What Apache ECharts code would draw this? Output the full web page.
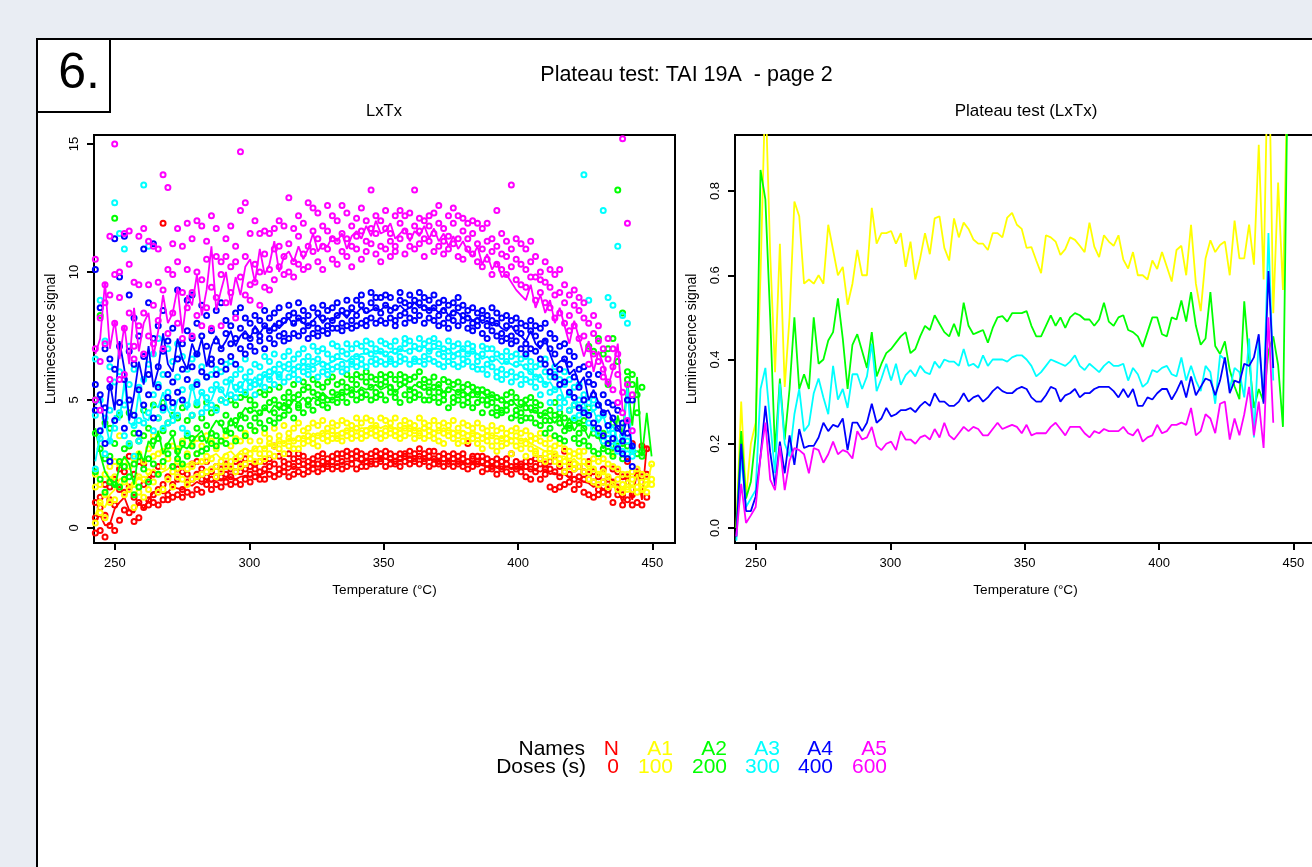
<!DOCTYPE html>
<html>
<head>
<meta charset="utf-8">
<title>Plateau test</title>
<script src="https://cdn.jsdelivr.net/npm/echarts@6/dist/echarts.min.js"></script>
<style>
  html, body { margin: 0; padding: 0; background: #e9edf3; overflow: hidden; }
  /* the right plot box runs past the window edge in the original */
  #chart { width: 1330px; height: 867px; }
</style>
</head>
<body>
<div id="chart"></div>
<script>
const temps = [
242.7,244.5,246.3,248.1,249.9,251.7,253.5,255.3,257.1,258.9,
260.7,262.5,264.3,266.1,267.9,269.7,271.5,273.3,275.1,276.9,
278.7,280.5,282.3,284.1,285.9,287.7,289.5,291.3,293.1,294.9,
296.7,298.5,300.3,302.1,303.9,305.7,307.5,309.3,311.1,312.9,
314.7,316.5,318.3,320.1,321.9,323.7,325.5,327.3,329.1,330.9,
332.7,334.5,336.3,338.1,339.9,341.7,343.5,345.3,347.1,348.9,
350.7,352.5,354.3,356.1,357.9,359.7,361.5,363.3,365.1,366.9,
368.7,370.5,372.3,374.1,375.9,377.7,379.5,381.3,383.1,384.9,
386.7,388.5,390.3,392.1,393.9,395.7,397.5,399.3,401.1,402.9,
404.7,406.5,408.3,410.1,411.9,413.7,415.5,417.3,419.1,420.9,
422.7,424.5,426.3,428.1,429.9,431.7,433.5,435.3,437.1,438.9,
440.7,442.5,444.3,446.1,447.9,449.7];

const xTicks = [250, 300, 350, 400, 450];
const yTicksLeft = [0, 5, 10, 15];
const yTicksRight = [0, 0.2, 0.4, 0.6, 0.8];

const names = ['N', 'A1', 'A2', 'A3', 'A4', 'A5'];
const doses = ['0', '100', '200', '300', '400', '600'];
const colors = ['#ff0000', '#ffff00', '#00ff00', '#00ffff', '#0000ff', '#ff00ff'];

// left panel, mean line per dose
const lineN = [.3,.5,.1,.15,.75,1.0,1.2,.7,.6,1.0,
.75,1.1,1.4,1.45,1.35,1.4,1.6,1.55,1.5,1.7,
1.65,1.8,1.7,1.85,1.8,1.9,1.85,1.95,2.0,1.9,
2.0,2.05,2.0,2.1,2.05,2.15,2.2,2.1,2.2,2.3,
2.25,2.4,2.35,2.4,2.3,2.45,2.4,2.45,2.5,2.5,
2.45,2.55,2.6,2.6,2.65,2.55,2.65,2.7,2.7,2.75,
2.7,2.65,2.7,2.65,2.7,2.75,2.7,2.8,2.7,2.65,
2.7,2.65,2.6,2.65,2.6,2.6,2.55,2.5,2.55,2.5,
2.45,2.4,2.45,2.35,2.3,2.4,2.35,2.4,2.35,2.3,
2.3,2.25,2.2,2.3,2.1,2.15,2.05,2.1,1.95,2.0,
1.9,1.8,1.75,1.6,1.7,1.5,1.65,1.85,1.5,1.0,
2.1,1.1,2.2,1.1,3.2];
const lineA1 = [.5,1.0,.8,1.3,1.5,1.9,2.0,1.6,1.7,2.0,
1.8,2.1,2.3,2.1,2.2,2.3,2.5,2.2,2.4,2.5,
2.6,2.5,2.7,2.5,2.8,2.9,2.7,2.9,3.0,2.8,
3.0,3.1,3.0,3.1,3.2,3.1,3.3,3.2,3.4,3.3,
3.5,3.4,3.6,3.5,3.5,3.7,3.6,3.7,3.8,3.7,
3.7,3.8,3.8,3.9,3.8,3.9,3.9,3.9,4.0,3.9,
4.0,3.9,3.9,3.8,3.9,3.9,3.8,3.9,3.8,3.9,
3.8,3.8,3.9,3.8,3.8,3.7,3.8,3.7,3.7,3.7,
3.6,3.7,3.6,3.6,3.5,3.6,3.5,3.5,3.4,3.5,
3.3,3.2,3.1,3.0,3.0,2.9,2.8,2.8,2.6,2.7,
2.5,2.5,2.3,2.4,2.1,2.2,2.0,1.7,1.6,1.5,
1.9,1.6,2.1,1.4,1.6,2.5];
const lineA2 = [3.9,2.9,2.2,1.9,1.6,2.4,2.8,2.5,1.7,3.0,
2.6,3.4,3.1,3.8,2.9,3.3,3.6,2.8,3.2,3.1,
3.4,3.6,3.8,3.3,3.9,4.2,4.0,3.7,4.3,3.9,
4.4,4.7,4.5,4.6,4.4,4.7,4.5,4.8,4.6,4.9,
4.7,5.0,4.9,5.1,4.8,5.1,5.0,5.3,5.1,5.0,
5.2,5.3,5.2,5.4,5.3,5.5,5.4,5.5,5.6,5.4,
5.5,5.6,5.3,5.5,5.6,5.4,5.6,5.5,5.4,5.5,
5.4,5.6,5.3,5.5,5.4,5.3,5.4,5.2,5.4,5.2,
5.3,5.1,5.2,5.0,5.1,4.9,5.0,4.8,4.7,4.9,
4.5,4.6,4.3,4.5,4.3,4.1,4.4,3.9,4.3,3.8,
4.1,3.9,3.5,4.0,3.6,3.1,3.4,3.0,4.4,3.6,
5.7,4.0,5.9,2.8,4.5,2.8];
const lineA3 = [2.6,3.6,4.2,3.3,4.4,4.2,5.7,4.1,4.0,5.3,
4.3,4.2,4.9,4.7,5.3,4.6,4.3,5.0,5.1,4.6,
5.6,4.8,5.3,4.9,5.0,5.5,5.4,5.1,5.8,5.3,
5.5,5.8,5.6,5.9,5.5,6.0,5.8,6.1,5.9,6.2,
6.1,6.3,6.2,6.4,6.3,6.3,6.4,6.5,6.4,6.5,
6.6,6.6,6.5,6.7,6.7,6.8,6.8,6.9,6.8,6.9,
6.7,6.9,6.8,7.0,6.9,7.0,7.0,6.9,7.1,6.9,
7.0,7.0,6.9,7.0,6.8,6.9,7.0,6.8,6.9,6.8,
6.6,6.7,6.5,6.6,6.4,6.5,6.4,6.3,6.4,6.2,
6.1,5.9,6.0,5.6,5.7,5.4,5.5,5.0,5.3,4.9,
4.7,4.9,4.4,4.6,4.1,4.4,3.7,4.0,3.4,3.3,
5.5,2.9,3.0];
const lineA4 = [4.8,5.1,3.9,5.7,4.6,7.3,6.2,4.2,5.2,6.5,
5.6,7.1,5.5,6.2,7.6,6.4,6.1,7.4,6.6,6.2,
7.2,6.7,7.4,6.3,7.1,7.5,7.0,7.3,7.7,7.1,
7.5,7.7,7.4,7.9,7.6,7.9,7.7,8.0,7.8,8.0,
8.2,7.9,8.2,8.0,7.9,8.1,8.3,8.0,8.2,8.1,
8.3,8.4,8.2,8.5,8.4,8.6,8.4,8.5,8.6,8.5,
8.7,8.6,8.5,8.7,8.5,8.6,8.8,8.6,8.7,8.5,
8.6,8.4,8.6,8.3,8.5,8.4,8.2,8.3,8.1,8.2,
8.0,8.1,7.9,8.0,7.8,7.7,7.9,7.6,7.5,7.3,
7.7,7.2,7.0,7.4,6.8,6.3,6.5,6.6,6.0,6.2,
5.6,5.9,5.0,5.4,4.9,4.5,4.6,4.2,3.9,3.6,
4.3,3.1];
const lineA5 = [6.8,7.4,9.6,7.0,8.1,6.6,7.9,6.4,8.6,6.9,
8.0,8.4,6.7,7.7,9.1,8.0,8.4,9.4,7.6,9.1,
8.7,9.9,8.3,9.3,11.0,8.5,9.3,10.0,8.7,9.8,
9.1,10.2,10.5,9.6,10.9,9.9,10.3,11.2,10.0,10.6,
10.8,10.4,11.0,10.5,10.9,11.5,10.8,11.1,11.0,11.4,
11.2,11.5,10.9,11.4,11.6,11.3,11.8,11.4,12.0,11.5,
11.6,11.9,11.3,11.5,11.7,11.2,11.6,11.4,11.8,11.3,
11.7,11.2,11.5,11.0,11.4,10.9,11.2,10.8,10.6,11.0,
10.3,10.7,10.1,10.4,9.8,9.9,9.6,9.3,9.1,8.9,
9.5,8.6,9.1,8.4,8.9,8.0,8.6,7.9,7.2,8.1,
7.4,6.7,7.3,6.1,6.9,6.4,5.5,6.2,7.2,4.6];

// left panel, three aliquots per temperature, read in temperature order
const dotsN = [-.2,.4,1.0,.8,-.1,1.2,.5,-.35,1.7,.1,1.1,1.6,-.1,.9,1.9,.3,1.5,2.3,1.4,.7,2.2,.6,1.6,2.8,.25,1.2,2.1,.4,1.0,2.6,
.8,1.7,2.5,1.1,1.9,.9,1.3,2.1,1.0,.9,1.5,2.4,1.1,1.7,11.9,1.3,2.0,1.1,1.2,1.7,2.4,1.3,1.9,2.3,1.5,1.2,2.2,1.4,2.1,1.8,
1.3,1.9,2.5,1.5,2.1,2.6,1.4,1.9,2.3,1.7,2.0,2.6,1.5,2.2,1.9,1.7,2.4,2.0,1.6,2.3,2.0,1.8,2.5,2.1,1.7,2.3,2.0,1.8,2.6,2.2,
1.7,2.2,2.5,1.9,2.3,2.7,1.8,2.1,2.4,2.0,2.5,2.3,1.9,2.6,2.2,1.9,2.3,2.6,2.1,2.4,2.7,2.0,2.5,3.2,2.1,2.3,2.8,2.2,2.6,2.4,
2.0,2.5,2.9,2.1,2.4,2.7,2.2,2.6,2.9,2.1,2.5,2.8,2.2,2.6,2.4,2.3,2.7,2.5,2.2,2.8,2.5,2.3,2.6,2.9,2.4,2.7,2.5,2.3,2.8,2.6,
2.4,2.7,2.9,2.3,2.6,2.9,2.4,2.8,3.0,2.5,2.7,2.9,2.3,2.8,3.0,2.4,2.7,2.9,2.4,2.8,2.6,2.6,2.9,2.5,2.5,2.8,3.0,2.6,2.7,2.9,
2.4,2.8,3.0,2.5,2.7,2.9,2.6,2.8,2.5,2.4,2.7,2.9,2.6,2.9,2.8,2.5,2.7,3.0,2.6,2.9,2.7,2.5,2.8,3.1,2.6,2.9,2.7,2.4,2.8,3.0,
2.5,2.7,3.0,2.6,2.8,2.5,2.4,2.7,2.9,2.5,2.8,2.6,2.4,2.7,2.9,2.5,2.6,2.8,2.4,2.7,2.9,2.3,2.6,3.3,2.4,2.7,2.8,2.5,2.6,2.8,
2.2,2.6,2.8,2.3,2.5,2.7,2.4,2.6,2.3,2.1,2.5,2.7,2.3,2.4,2.6,2.2,2.5,2.7,2.1,2.4,2.9,2.3,2.6,2.4,2.2,2.5,2.4,2.0,2.4,2.6,
1.9,2.3,2.6,2.2,2.4,2.7,1.9,2.5,2.7,2.3,2.1,2.5,1.6,2.3,2.6,1.5,2.2,2.8,1.6,2.4,2.0,1.7,2.2,3.0,1.8,2.5,2.1,1.5,2.3,1.9,
1.7,2.4,2.0,1.4,2.2,1.9,1.3,2.1,2.6,1.2,2.2,1.8,1.5,2.0,1.3,1.4,2.3,1.8,1.5,1.9,1.3,1.0,1.8,2.3,1.6,2.2,1.3,.9,2.0,1.3,
2.0,2.6,1.1,3.3,1.3,.9,1.0,2.2,2.1,.9,2.0,3.2,1.2,3.1,2.1];
const dotsA1 = [.2,1.6,2.1,.6,1.7,1.0,1.3,2.1,.4,1.0,2.4,1.9,1.1,2.0,2.6,1.6,2.5,3.6,1.8,2.6,1.3,1.5,2.4,3.3,1.7,2.7,.8,2.0,2.9,1.4,
1.2,2.6,1.9,2.2,3.1,1.5,1.8,2.8,3.6,2.1,2.9,1.4,2.4,3.0,1.5,1.9,2.7,3.2,2.2,3.2,1.6,2.0,2.6,3.1,2.4,1.9,3.4,2.3,2.9,1.7,
2.4,3.3,1.9,2.0,2.9,3.5,2.6,3.2,2.1,2.2,2.8,3.6,2.7,2.3,3.4,2.4,3.1,2.0,2.6,3.4,2.2,2.8,3.6,2.4,2.6,3.2,2.4,2.7,3.5,2.2,
2.8,3.4,2.4,3.0,3.7,2.5,2.7,3.4,2.9,3.1,2.6,3.8,2.9,3.4,2.6,3.1,3.7,2.7,2.9,3.5,3.3,3.2,3.9,2.8,3.1,3.6,3.4,3.3,4.0,2.9,
3.2,3.7,3.5,3.1,3.9,3.4,3.5,4.1,3.1,3.3,3.8,3.5,3.4,3.9,3.6,3.3,4.1,3.5,3.6,4.0,3.2,3.5,4.2,3.7,3.4,3.9,3.6,3.5,4.1,3.8,
3.6,4.0,3.5,3.7,4.2,3.4,3.6,4.1,3.8,3.7,4.0,3.5,3.6,4.3,3.9,3.5,4.1,3.7,3.8,4.3,3.6,3.7,4.2,3.9,3.6,4.0,3.8,3.7,4.3,3.5,
3.8,4.2,3.6,3.7,4.1,3.9,3.6,4.3,3.8,3.5,4.0,3.7,3.9,4.2,3.6,3.7,4.1,3.9,3.5,4.0,3.8,3.7,4.3,3.6,3.9,4.1,3.5,3.6,4.0,3.8,
3.7,4.2,3.5,3.4,4.0,3.8,3.7,4.1,3.3,3.6,4.0,3.8,3.5,4.2,3.7,3.3,3.9,3.6,3.4,4.1,3.7,3.6,4.0,3.4,3.5,3.9,3.7,3.3,4.1,3.6,
3.5,3.9,3.1,3.4,3.8,3.6,3.2,4.0,3.6,3.4,3.8,3.0,3.5,3.9,3.2,3.3,3.7,3.5,2.9,3.8,3.4,3.2,3.6,3.9,3.4,3.7,3.1,3.3,3.8,2.8,
3.1,3.6,3.4,3.0,3.5,2.9,2.7,3.4,3.7,2.9,3.3,2.6,2.8,3.5,3.1,2.6,3.2,2.9,2.7,3.3,2.5,2.6,3.1,2.2,2.8,2.4,3.0,2.5,2.9,2.3,
2.4,2.8,3.0,2.2,2.6,3.0,1.9,2.5,2.2,2.7,1.8,2.3,2.1,2.6,1.7,1.8,2.7,2.2,2.0,2.5,1.6,1.7,2.4,2.9,1.9,2.3,1.5,1.7,2.1,1.4,
2.1,1.6,1.5,1.9,2.2,1.5,1.6,1.4,2.3,1.8,1.5,2.1,1.7,1.4,2.0,2.5,1.9,1.7];
const dotsA2 = [2.2,3.7,5.0,1.9,3.1,8.3,2.7,4.1,1.4,2.8,1.8,3.9,12.1,1.7,3.3,2.6,1.6,4.4,3.1,1.9,2.4,2.0,3.2,4.5,1.3,2.5,3.7,2.8,1.6,3.4,
2.3,3.6,4.6,1.8,2.7,3.9,2.5,3.4,4.8,2.1,3.5,4.3,2.6,3.8,4.9,2.9,3.2,4.1,2.4,3.7,4.4,3.0,4.3,2.7,3.3,2.5,4.7,2.8,3.6,4.2,
3.2,4.4,3.5,2.9,3.9,4.8,3.5,3.0,4.3,3.1,4.0,4.9,3.3,4.5,3.7,3.6,4.7,3.2,3.4,4.1,5.0,3.3,4.4,3.8,3.7,5.0,4.1,3.4,4.2,4.8,
3.9,4.4,5.1,3.6,4.3,5.2,4.0,4.6,5.0,3.8,4.8,4.3,4.1,5.3,4.5,3.9,4.7,5.2,4.2,4.9,5.4,4.1,5.0,4.5,4.3,4.8,5.5,4.4,5.1,4.7,
4.6,5.3,4.9,4.3,5.1,5.6,4.7,5.2,4.8,4.5,5.4,5.7,4.8,5.0,5.5,4.6,5.3,5.8,4.9,5.2,5.6,4.8,5.5,5.1,5.0,5.7,4.7,5.3,5.9,5.0,
4.9,5.6,5.2,5.1,5.7,5.3,4.9,5.5,6.0,5.2,5.8,5.4,5.0,5.6,6.0,5.3,5.9,5.1,5.2,5.7,6.1,5.0,5.5,5.9,5.3,5.8,5.1,5.2,5.6,6.0,
5.0,5.7,5.9,5.3,5.5,6.0,5.1,5.8,5.3,4.9,5.6,6.0,5.2,5.7,5.9,5.0,5.4,5.8,5.3,5.9,5.1,5.2,5.6,6.1,5.0,5.5,5.8,5.3,5.7,5.0,
5.1,5.5,5.9,4.9,5.6,5.3,5.2,5.8,5.0,4.7,5.4,5.7,5.1,5.6,4.9,5.3,5.7,5.0,4.8,5.5,5.2,5.1,5.6,4.9,5.2,5.5,4.7,4.9,5.4,5.2,
4.5,5.0,5.4,4.8,5.3,5.0,4.5,5.2,4.9,4.7,5.1,4.4,4.5,5.0,4.6,4.6,5.2,4.8,4.3,4.9,5.3,4.6,5.1,4.4,4.5,4.9,4.2,4.7,5.0,4.3,
4.3,4.7,5.1,4.1,4.6,4.9,4.4,4.0,4.8,4.2,4.5,3.7,3.9,4.6,4.2,3.6,4.4,4.9,4.1,3.5,4.5,3.8,4.3,3.4,3.9,4.6,4.0,3.5,4.2,4.8,
3.7,4.1,3.3,3.9,3.4,4.2,3.2,4.7,7.1,3.7,6.9,3.0,2.9,3.6,7.4,3.1,3.7,6.8,3.0,5.6,7.0,7.4,4.1,2.8,13.2,6.5,3.2,2.7,8.4,3.3,
5.8,3.2,6.1,5.6,3.0,6.0,5.2,2.9,4.5,2.8,5.5,3.0];
const dotsA3 = [2.3,4.4,6.6,3.5,5.0,8.9,2.9,4.3,7.3,3.4,4.6,6.3,12.7,3.9,5.7,11.5,4.5,6.1,10.9,3.6,4.8,3.3,5.6,7.1,4.0,6.2,2.8,4.2,5.5,3.4,
13.4,4.1,5.8,11.0,4.5,6.4,3.8,5.2,6.8,4.3,5.6,7.4,4.6,6.0,3.9,4.1,5.3,7.0,4.7,6.5,4.2,4.4,5.9,7.2,3.9,5.4,6.7,4.8,6.2,3.7,
5.5,4.4,6.6,4.9,5.7,6.8,4.5,5.3,6.3,4.7,5.9,5.1,4.8,6.0,5.4,4.6,5.6,6.2,5.0,6.1,5.4,4.9,5.7,6.4,5.2,5.8,6.5,5.1,6.0,5.5,
5.4,6.2,5.6,5.3,5.9,6.6,5.5,6.1,5.7,5.6,6.4,5.2,5.7,6.3,5.9,5.5,6.0,6.7,5.8,6.5,6.1,5.6,6.2,6.8,5.9,6.4,6.0,5.7,6.3,6.7,
5.9,6.4,6.9,6.0,6.6,6.2,5.8,6.3,6.8,6.1,6.5,7.0,6.0,6.7,6.3,6.2,6.5,7.1,5.9,6.6,6.9,6.1,6.4,7.0,6.3,6.8,6.0,6.2,6.6,7.2,
6.3,6.7,7.1,6.4,6.9,6.1,6.2,6.8,7.2,6.5,7.0,6.4,6.3,6.7,7.2,6.6,7.1,6.4,6.3,6.9,7.3,6.5,6.8,7.2,6.4,7.0,6.6,6.5,6.9,7.3,
6.4,6.8,7.2,6.6,7.1,6.5,6.4,6.9,7.3,6.7,7.0,6.5,6.6,7.2,7.4,6.4,6.9,7.3,6.6,7.1,6.5,6.5,7.0,7.4,6.7,7.2,6.4,6.6,6.9,7.3,
6.5,7.1,7.4,6.4,6.8,7.2,6.7,7.0,6.3,6.5,6.9,7.3,6.4,7.1,6.7,6.3,6.8,7.2,6.6,7.0,6.4,6.5,7.2,6.8,6.3,6.9,7.1,6.5,6.7,6.2,
6.2,6.8,7.1,6.4,7.0,6.0,6.3,6.6,7.0,6.1,6.8,5.9,6.2,6.7,5.8,6.0,6.5,6.9,6.1,6.7,5.7,5.9,6.4,6.8,6.0,6.6,5.6,5.8,6.3,6.7,
5.7,6.5,6.1,5.5,6.3,5.9,5.8,6.4,5.2,5.6,6.1,6.6,5.3,5.9,4.9,5.4,6.0,6.3,5.1,5.8,4.7,4.9,5.6,6.1,5.2,4.6,5.8,4.8,5.5,4.3,
5.0,4.4,5.6,13.8,4.6,5.2,4.1,4.9,8.9,4.7,3.9,5.0,4.3,3.7,4.8,4.4,12.4,3.4,4.0,3.5,9.0,3.7,3.2,8.7,3.3,3.0,11.0,3.0,3.6,8.3,
2.9,8.0,3.4,2.8,3.1];
const dotsA4 = [4.6,5.6,10.1,3.8,5.2,8.6,3.3,4.7,7.0,2.6,5.5,6.6,11.3,4.2,6.2,9.8,4.9,7.1,11.4,3.9,5.8,9.1,5.0,6.9,4.4,6.4,8.2,3.7,5.4,7.5,
4.8,6.7,10.9,5.2,6.0,8.8,4.3,7.4,11.1,5.5,6.3,7.9,4.7,6.9,8.5,5.1,7.3,6.0,5.7,7.8,4.9,5.3,6.6,9.3,6.2,7.2,5.0,5.8,7.7,8.9,
6.3,7.4,9.1,5.6,6.8,8.0,6.1,7.5,8.7,5.9,7.1,8.3,6.4,7.7,6.6,6.0,7.3,8.5,6.5,7.0,8.8,6.2,7.6,8.1,6.7,7.9,7.2,6.4,7.4,8.4,
7.0,7.8,8.6,6.8,7.5,8.2,7.1,8.0,7.4,6.9,7.7,8.3,7.3,8.1,7.5,7.0,7.9,8.5,7.4,8.2,7.7,7.2,7.8,8.4,7.5,8.0,8.6,7.3,8.1,7.6,
7.4,8.3,8.7,7.6,8.0,8.4,7.5,8.2,8.8,7.7,8.1,8.5,7.4,8.3,7.9,7.6,8.0,8.6,7.8,8.4,7.5,7.7,8.2,8.7,7.9,8.5,7.6,7.8,8.1,8.6,
7.8,8.3,8.8,8.0,8.5,7.7,7.9,8.4,8.9,8.1,8.6,7.8,7.9,8.3,8.9,8.0,8.7,9.1,8.1,8.5,7.9,8.2,8.8,9.2,8.0,8.6,9.0,8.1,8.4,9.0,
8.0,8.7,9.1,8.2,8.5,9.0,8.1,8.6,7.9,8.3,8.9,9.2,8.0,8.4,8.8,8.2,8.7,9.1,8.1,8.5,8.9,8.3,8.8,9.2,8.0,8.6,9.0,8.2,8.5,8.9,
8.1,8.6,9.1,8.3,8.8,7.9,8.0,8.5,8.9,8.2,8.7,7.8,8.1,8.4,8.8,7.9,8.6,9.0,8.1,8.3,8.7,7.8,8.5,8.2,8.0,8.6,7.7,7.9,8.4,8.1,
7.6,8.2,8.5,7.9,8.3,7.4,7.7,8.1,8.6,7.5,8.0,8.4,7.6,8.2,7.3,7.4,7.9,8.3,7.5,8.1,7.2,7.3,7.8,8.2,7.0,7.6,8.0,7.2,7.9,6.8,
7.0,7.7,8.1,6.9,7.5,7.9,6.6,7.2,7.8,6.4,7.3,8.0,6.1,7.0,7.6,5.9,6.8,7.4,6.2,7.1,5.6,5.7,6.6,7.2,5.3,6.4,6.9,5.9,6.7,5.1,
5.5,6.2,4.7,5.0,6.3,4.5,5.7,4.4,6.0,5.2,4.1,5.6,4.8,6.0,3.9,4.5,5.2,3.6,4.9,4.0,3.3,4.3,4.8,3.5,3.9,4.6,3.1,3.4,4.1,2.9,
3.7,5.0,2.7,3.2,5.0,2.4];
const dotsA5 = [10.5,7.0,5.0,8.2,6.5,4.6,9.5,7.2,8.8,11.4,9.1,5.8,15.0,8.0,9.9,9.0,10.0,5.8,11.5,7.8,6.0,8.4,10.3,11.6,7.1,9.6,6.6,9.5,7.9,11.4,
11.7,8.4,6.8,9.5,11.2,7.5,11.0,8.7,7.2,9.6,10.9,8.1,13.8,9.3,7.0,13.3,10.1,7.6,11.1,8.4,9.9,10.4,11.7,8.0,9.2,11.0,7.4,11.9,8.6,10.1,
11.3,9.2,7.5,10.0,12.0,8.3,11.8,9.7,7.9,10.5,8.6,11.2,12.2,9.4,7.8,10.6,9.0,11.7,9.9,10.4,7.9,11.3,8.8,10.6,10.2,9.2,11.8,10.4,8.2,11.0,
14.7,9.8,12.4,9.1,10.6,12.7,9.5,11.5,8.9,10.3,12.0,9.6,11.5,10.0,8.7,9.4,10.7,11.6,11.5,10.1,9.3,10.9,11.7,9.7,10.2,11.0,12.0,9.9,10.6,11.8,
10.0,11.1,12.9,10.4,11.7,9.8,10.3,11.4,12.2,10.7,11.9,10.1,10.2,11.0,12.7,10.8,11.6,12.5,10.4,11.3,12.3,10.1,11.0,11.8,10.9,11.6,12.6,10.5,11.3,12.2,
10.3,11.2,12.0,10.8,11.5,12.6,10.6,11.3,12.3,11.0,11.8,10.2,10.9,11.4,12.1,10.5,11.6,12.5,10.8,11.2,12.0,11.1,11.7,13.2,10.7,11.5,12.2,10.4,11.0,12.0,
10.9,11.7,12.4,11.2,10.6,11.5,11.0,12.2,10.8,11.3,11.9,12.4,10.7,11.6,12.2,11.0,11.4,12.3,10.9,11.8,13.2,11.1,11.6,12.1,10.6,11.3,12.0,11.2,11.8,12.2,
10.8,11.5,12.3,11.0,11.9,12.6,11.2,11.7,10.7,10.9,11.4,12.2,11.1,11.9,12.5,10.6,11.3,12.2,10.5,11.6,12.1,10.9,11.3,11.9,10.7,11.5,12.0,10.4,11.1,11.9,
10.2,10.9,11.7,10.5,11.2,11.9,9.9,10.8,11.3,10.3,11.0,12.4,10.1,10.7,11.5,9.9,10.6,11.2,10.2,10.9,13.4,9.7,10.5,11.3,9.5,10.3,11.1,9.4,10.1,10.9,
9.8,10.4,11.2,8.9,9.8,10.6,9.2,10.0,9.7,8.8,9.6,10.4,8.6,9.4,10.1,9.1,9.9,8.2,8.4,9.2,10.1,8.0,8.8,9.5,8.3,9.1,7.7,7.9,8.7,9.3,
7.4,8.5,9.0,7.5,8.2,8.8,7.0,8.0,6.4,6.8,7.6,8.3,6.5,7.3,7.9,6.2,7.0,5.9,5.7,6.6,7.4,5.4,6.3,7.0,4.9,6.0,6.8,4.5,5.3,15.2,
4.2,5.6,11.9,3.8,5.2];

// right panel, ratio per dose
const ratioA1 = [0,.30,.07,.20,.25,.60,1.05,.65,.37,.675,
.335,.50,.775,.74,.58,.59,.58,.60,.58,.72,
.66,.60,.62,.53,.58,.66,.60,.60,.76,.675,
.70,.70,.705,.675,.70,.62,.68,.59,.64,.70,
.65,.735,.74,.665,.635,.735,.69,.725,.71,.685,
.675,.675,.66,.70,.70,.69,.737,.748,.72,.71,
.665,.667,.635,.605,.695,.69,.68,.648,.662,.69,
.684,.67,.655,.725,.668,.643,.695,.68,.67,.695,
.637,.616,.655,.60,.60,.59,.635,.615,.655,.62,
.585,.66,.67,.60,.72,.58,.515,.64,.683,.655,
.672,.68,.60,.73,.64,.64,.72,.625,.91,.59,
1.2,.51,.82,.565,1.1];
const ratioA2 = [0,.23,.07,.11,.22,.85,.78,.50,.18,.355,
.21,.33,.50,.33,.365,.33,.50,.39,.40,.445,
.465,.545,.45,.33,.435,.46,.42,.38,.465,.36,
.39,.415,.425,.44,.455,.465,.415,.425,.455,.48,
.47,.505,.485,.465,.455,.485,.455,.535,.48,.46,
.465,.47,.44,.475,.50,.503,.49,.51,.51,.51,
.515,.48,.455,.455,.48,.505,.48,.50,.475,.50,
.51,.505,.495,.495,.48,.495,.535,.49,.48,.50,
.505,.47,.465,.455,.43,.465,.50,.50,.46,.455,
.50,.495,.54,.49,.56,.48,.435,.45,.56,.432,
.413,.443,.375,.336,.306,.538,.40,.285,.33,.30,
.42,.455,.387,.24,1.1];
const ratioA3 = [-.03,.17,.05,.07,.09,.33,.38,.25,.13,.343,
.20,.17,.27,.33,.23,.245,.32,.355,.31,.27,
.385,.305,.33,.285,.365,.365,.33,.36,.438,.325,
.355,.39,.35,.39,.34,.363,.375,.36,.385,.37,
.365,.395,.38,.40,.395,.395,.385,.425,.385,.39,
.38,.41,.385,.40,.40,.40,.395,.405,.41,.41,
.40,.385,.36,.37,.385,.40,.395,.39,.385,.395,
.41,.385,.375,.39,.38,.37,.385,.395,.385,.385,
.39,.35,.38,.365,.335,.345,.375,.37,.38,.385,
.365,.36,.405,.35,.385,.35,.325,.385,.37,.295,
.41,.40,.33,.38,.37,.31,.45,.215,.45,.30,
.70,.35];
const ratioA4 = [-.02,.20,.04,.04,.075,.17,.29,.18,.10,.205,
.13,.22,.15,.235,.19,.195,.195,.215,.25,.23,
.245,.24,.26,.185,.25,.25,.23,.25,.295,.25,
.26,.285,.265,.27,.28,.28,.285,.275,.29,.30,
.29,.32,.30,.30,.29,.29,.30,.32,.30,.31,
.315,.30,.31,.325,.335,.325,.32,.32,.33,.335,
.33,.31,.30,.30,.315,.335,.33,.30,.315,.32,
.33,.31,.32,.32,.33,.335,.335,.335,.325,.31,
.33,.31,.33,.29,.29,.31,.305,.32,.33,.33,
.305,.325,.35,.31,.36,.315,.335,.355,.35,.315,
.35,.405,.32,.35,.345,.39,.385,.405,.46,.295,
.61,.38];
const ratioA5 = [-.02,.105,.012,.03,.05,.17,.25,.115,.09,.195,
.09,.16,.19,.185,.175,.13,.19,.185,.155,.175,
.205,.175,.185,.18,.165,.23,.21,.215,.24,.195,
.185,.20,.205,.185,.23,.21,.21,.20,.215,.22,
.21,.235,.215,.25,.22,.21,.225,.24,.23,.24,
.235,.22,.22,.235,.25,.235,.24,.245,.24,.225,
.245,.22,.225,.225,.225,.24,.25,.235,.22,.24,
.24,.24,.225,.215,.23,.225,.235,.23,.23,.23,
.24,.225,.22,.235,.205,.215,.22,.245,.225,.23,
.245,.245,.25,.245,.285,.22,.23,.27,.26,.225,
.295,.30,.21,.26,.22,.27,.335,.22,.30,.19,
.50,.25];

const lines = [lineN, lineA1, lineA2, lineA3, lineA4, lineA5];
const dots = [dotsN, dotsA1, dotsA2, dotsA3, dotsA4, dotsA5];
const ratios = [null, ratioA1, ratioA2, ratioA3, ratioA4, ratioA5];

const font = '"Liberation Sans", Arial, sans-serif';

function withTemps(vals) {
  return vals.map((v, i) => [temps[i], v]);
}
function dotPairs(vals) {
  return vals.map((v, i) => [temps[Math.floor(i / 3)], v]);
}

const series = [];
names.forEach((name, k) => {
  series.push({
    name: name + ' dots', type: 'scatter', xAxisIndex: 0, yAxisIndex: 0,
    data: dotPairs(dots[k]), symbol: 'circle', symbolSize: 5, z: 2 + k,
    itemStyle: { color: 'rgba(255,255,255,0)', borderColor: colors[k], borderWidth: 2, opacity: 1 },
    silent: true
  });
  series.push({
    name: name + ' mean', type: 'line', xAxisIndex: 0, yAxisIndex: 0,
    data: withTemps(lines[k]), showSymbol: false, symbol: 'none', z: 2 + k,
    lineStyle: { color: colors[k], width: 1.8 }, silent: true
  });
  if (ratios[k]) {
    series.push({
      name: name + ' ratio', type: 'line', xAxisIndex: 1, yAxisIndex: 1,
      data: withTemps(ratios[k]), showSymbol: false, symbol: 'none', z: 2 + k,
      lineStyle: { color: colors[k], width: 1.8 }, silent: true
    });
  }
});

function xAxis(gridIndex) {
  return {
    type: 'value', gridIndex: gridIndex, position: 'bottom', min: 242.2, max: 458.4,
    name: 'Temperature (°C)', nameLocation: 'middle', nameGap: 40,
    nameTextStyle: { color: '#000', fontSize: 13.6, fontFamily: font },
    splitLine: { show: false }, axisLine: { show: false, onZero: false },
    axisTick: { show: true, length: 7, inside: false, customValues: xTicks, lineStyle: { color: '#000', width: 2 } },
    axisLabel: { customValues: xTicks, margin: 14, color: '#000', fontSize: 13, fontFamily: font }
  };
}
function yAxis(gridIndex, min, max, ticks, fmt) {
  return {
    type: 'value', gridIndex: gridIndex, position: 'left', min: min, max: max,
    name: 'Luminescence signal', nameLocation: 'middle', nameGap: 36,
    nameTextStyle: { color: '#000', fontSize: 14, fontFamily: font },
    splitLine: { show: false }, axisLine: { show: false, onZero: false },
    axisTick: { show: true, length: 7, inside: false, customValues: ticks, lineStyle: { color: '#000', width: 2 } },
    axisLabel: { customValues: ticks, rotate: 90, margin: 13, color: '#000', fontSize: 13, fontFamily: font, formatter: fmt }
  };
}

const legendRights = [619, 673, 727, 780, 833, 887];
const graphics = [
  { type: 'rect', shape: { x: 37, y: 39, width: 1320, height: 900 }, style: { fill: '#fff', stroke: '#000', lineWidth: 2 }, z: -10 },
  { type: 'rect', shape: { x: 37, y: 39, width: 73, height: 73 }, style: { fill: '#fff', stroke: '#000', lineWidth: 2 }, z: -9 },
  { type: 'text', x: 79, y: 74, style: { text: '6.', fill: '#000', font: '50px ' + font, textAlign: 'center', textVerticalAlign: 'middle' } },
  { type: 'text', x: 686.5, y: 75, style: { text: 'Plateau test: TAI 19A  - page 2', fill: '#000', font: '21.5px ' + font, textAlign: 'center', textVerticalAlign: 'middle' } },
  { type: 'text', x: 384, y: 111, style: { text: 'LxTx', fill: '#000', font: '16.5px ' + font, textAlign: 'center', textVerticalAlign: 'middle' } },
  { type: 'text', x: 1026, y: 111, style: { text: 'Plateau test (LxTx)', fill: '#000', font: '17px ' + font, textAlign: 'center', textVerticalAlign: 'middle' } },
  { type: 'text', x: 585, y: 749, style: { text: 'Names', fill: '#000', font: '21px ' + font, textAlign: 'right', textVerticalAlign: 'middle' } },
  { type: 'text', x: 586, y: 767, style: { text: 'Doses (s)', fill: '#000', font: '21px ' + font, textAlign: 'right', textVerticalAlign: 'middle' } }
];
names.forEach((name, k) => {
  graphics.push({ type: 'text', x: legendRights[k], y: 749, style: { text: name, fill: colors[k], font: '21px ' + font, textAlign: 'right', textVerticalAlign: 'middle' } });
  graphics.push({ type: 'text', x: legendRights[k], y: 767, style: { text: doses[k], fill: colors[k], font: '21px ' + font, textAlign: 'right', textVerticalAlign: 'middle' } });
});

const chart = echarts.init(document.getElementById('chart'));
chart.setOption({
  animation: false,
  backgroundColor: '#e9edf3',
  graphic: { elements: graphics },
  grid: [
    { left: 94, top: 135, width: 581, height: 408, show: true, borderColor: '#000', borderWidth: 2, backgroundColor: 'rgba(0,0,0,0)' },
    { left: 735, top: 135, width: 581, height: 408, show: true, borderColor: '#000', borderWidth: 2, backgroundColor: 'rgba(0,0,0,0)' }
  ],
  xAxis: [xAxis(0), xAxis(1)],
  yAxis: [
    yAxis(0, -0.586, 15.35, yTicksLeft, v => String(v)),
    yAxis(1, -0.0356, 0.933, yTicksRight, v => v.toFixed(1))
  ],
  series: series
});
</script>
</body>
</html>
